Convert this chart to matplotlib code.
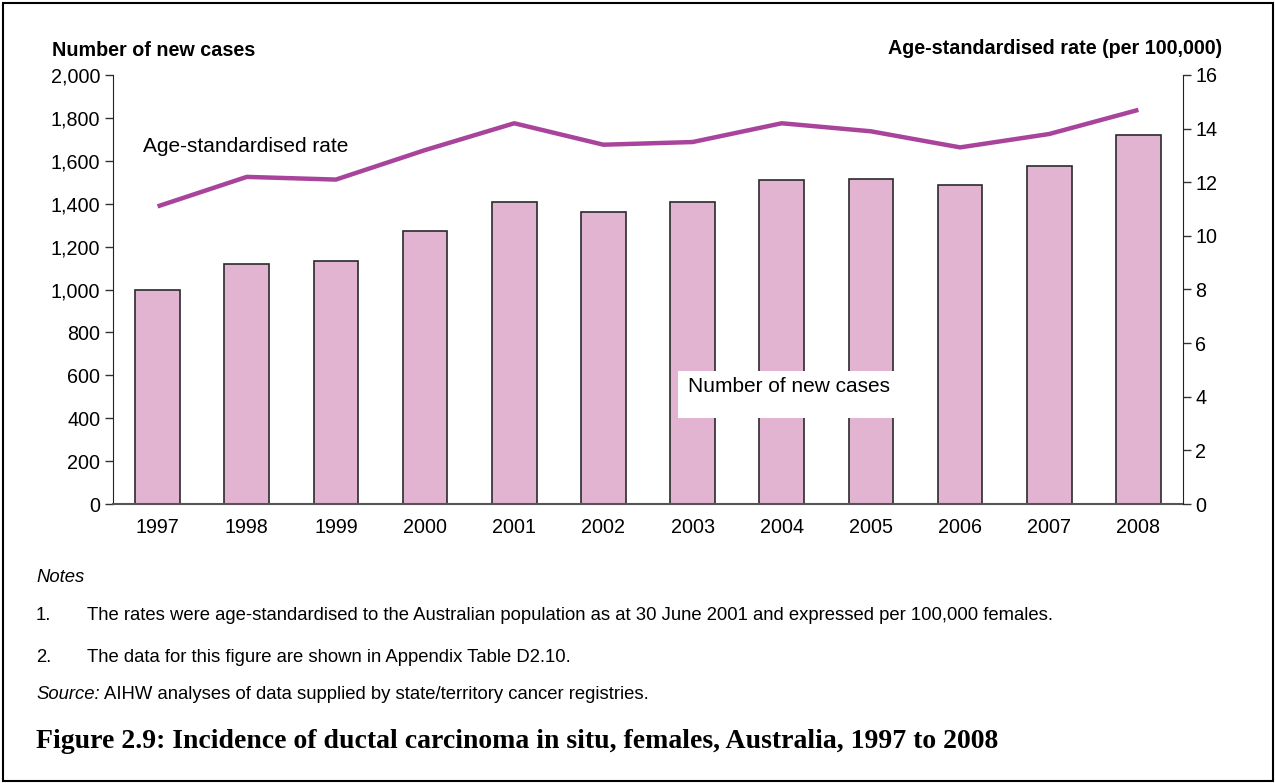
import matplotlib
matplotlib.use("Agg")
import matplotlib.pyplot as plt
from matplotlib.patches import Rectangle

years = ["1997", "1998", "1999", "2000", "2001", "2002", "2003", "2004", "2005", "2006", "2007", "2008"]
new_cases = [1000, 1120, 1133, 1273, 1408, 1361, 1408, 1510, 1515, 1487, 1576, 1720]
rates = [11.1, 12.2, 12.1, 13.2, 14.2, 13.4, 13.5, 14.2, 13.9, 13.3, 13.8, 14.7]
left_ticks = [0, 200, 400, 600, 800, 1000, 1200, 1400, 1600, 1800, 2000]
right_ticks = [0, 2, 4, 6, 8, 10, 12, 14, 16]

plt.rcParams['font.family'] = ['Liberation Sans', 'DejaVu Sans']

W, H = 1275, 783
fig = plt.figure(figsize=(W / 100, H / 100), dpi=100)
ax = fig.add_axes([113 / W, 1 - 504 / H, (1183 - 113) / W, (504 - 75) / H])

TICK_FS = 14.2

x = list(range(len(years)))
ax.bar(x, new_cases, width=0.5, color="#E2B4D2", edgecolor="#2a2a2a", linewidth=1.2, zorder=2)
ax.set_xlim(-0.5, len(years) - 0.5)
ax.set_ylim(0, 2000)
ax.set_yticks(left_ticks)
ax.set_yticklabels([f"{v:,}" for v in left_ticks])
ax.set_xticks(x)
ax.set_xticklabels(years)
ax.tick_params(axis="y", labelsize=TICK_FS, length=6, width=1, color="#333333", pad=3)
ax.tick_params(axis="x", labelsize=TICK_FS, length=0, pad=10)
ax.spines["top"].set_visible(False)
ax.spines["right"].set_visible(False)
ax.spines["left"].set_color("#222222")
ax.spines["bottom"].set_color("#555555")
ax.spines["bottom"].set_linewidth(1.5)

ax2 = ax.twinx()
ax2.plot(x, rates, color="#A8449B", linewidth=3.2, solid_capstyle="butt", zorder=3)
ax2.set_ylim(0, 16)
ax2.set_yticks(right_ticks)
ax2.tick_params(axis="y", labelsize=TICK_FS, length=6, width=1, color="#333333", pad=3)
for s in ["top", "left", "bottom"]:
    ax2.spines[s].set_visible(False)
ax2.spines["right"].set_color("#222222")

fig.text(143 / W, 1 - 147 / H, "Age-standardised rate", fontsize=15, va="center", ha="left", zorder=5)
fig.patches.append(Rectangle((678 / W, 1 - 418 / H), (937 - 678) / W, (418 - 371) / H,
                             transform=fig.transFigure, facecolor="white", edgecolor="none", zorder=4))
fig.text(688 / W, 1 - 386 / H, "Number of new cases", fontsize=15, va="center", ha="left", zorder=6)

fig.text(52 / W, 1 - 50 / H, "Number of new cases", fontsize=14.2, fontweight="bold", va="center", ha="left")
fig.text(1222 / W, 1 - 48 / H, "Age-standardised rate (per 100,000)", fontsize=14.2, fontweight="bold",
         va="center", ha="right")

NFS = 13.3
fig.text(36 / W, 1 - 577 / H, "Notes", fontsize=NFS, style="italic", va="center")
fig.text(36 / W, 1 - 615 / H, "1.", fontsize=NFS, va="center")
fig.text(87 / W, 1 - 615 / H,
         "The rates were age-standardised to the Australian population as at 30 June 2001 and expressed per 100,000 females.",
         fontsize=NFS, va="center")
fig.text(36 / W, 1 - 657 / H, "2.", fontsize=NFS, va="center")
fig.text(87 / W, 1 - 657 / H, "The data for this figure are shown in Appendix Table D2.10.", fontsize=NFS, va="center")
src = fig.text(36 / W, 1 - 699 / H, "Source:", fontsize=NFS, style="italic", va="baseline")
fig.texts.append(matplotlib.text.Annotation(
    "AIHW analyses of data supplied by state/territory cancer registries.",
    xy=(1, 0), xycoords=src, xytext=(3, 0), textcoords="offset points",
    fontsize=NFS, va="bottom", ha="left"))
fig.texts[-1].set_figure(fig)
fig.text(36 / W, 1 - 741 / H, "Figure 2.9: Incidence of ductal carcinoma in situ, females, Australia, 1997 to 2008",
         fontsize=20, fontweight="bold", family=["Liberation Serif", "DejaVu Serif"], va="center")

fig.patches.append(Rectangle((2.5 / W, 2.5 / H), (W - 5) / W, (H - 5) / H, transform=fig.transFigure,
                             facecolor="none", edgecolor="black", linewidth=1.5))

fig.savefig("out.png", dpi=100)
